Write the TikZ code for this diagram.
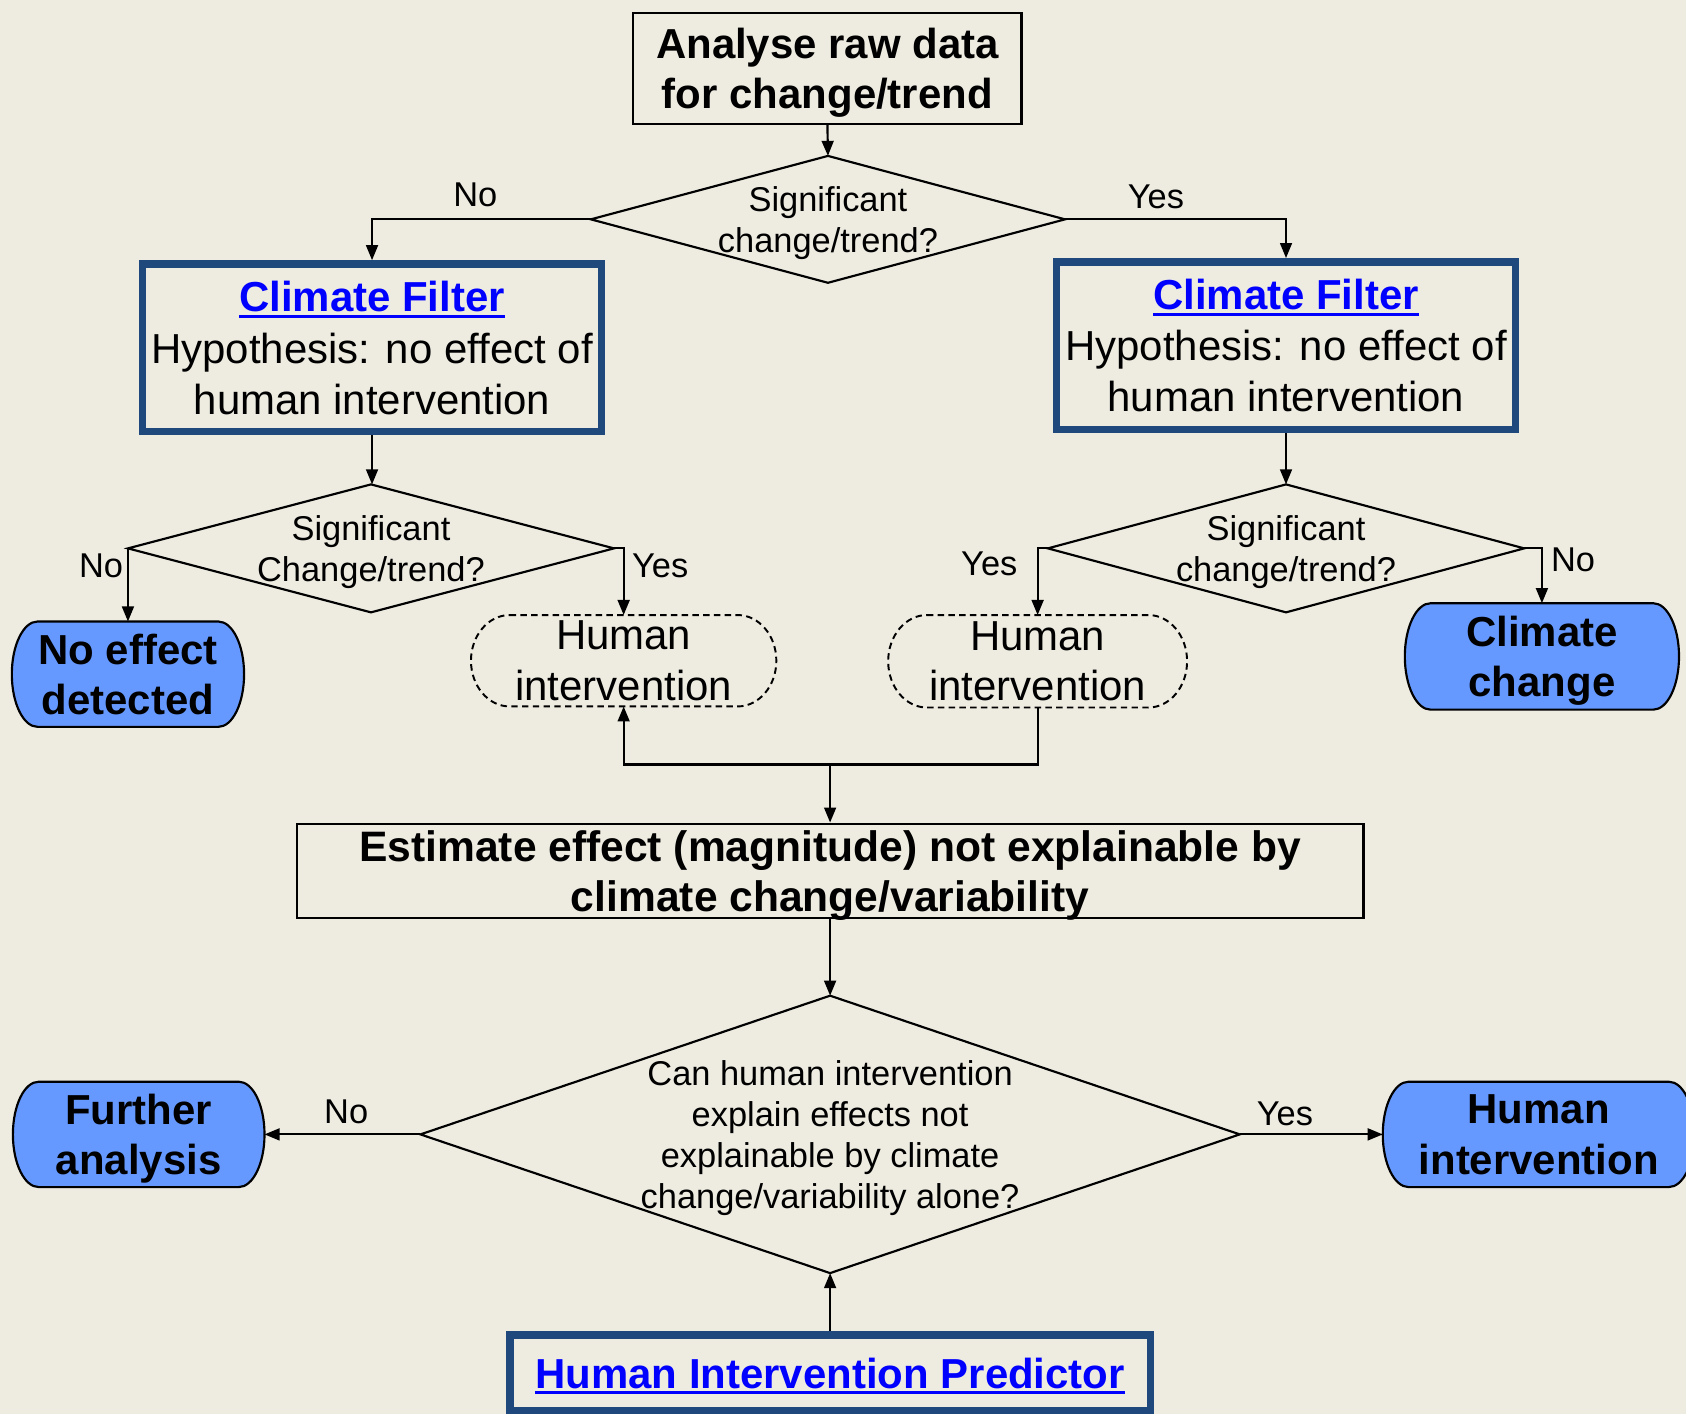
\documentclass[tikz,border=0pt]{standalone}
\usepackage{fontspec}
\setmainfont{Liberation Sans}
\usetikzlibrary{arrows.meta,calc}
\definecolor{bgbeige}{HTML}{EEECE1}
\definecolor{termblue}{HTML}{6699FF}
\definecolor{framenavy}{HTML}{1F497D}
\definecolor{linkblue}{HTML}{0000FF}

% blue underlined link-like heading
\newcommand\linktext[1]{\textcolor{linkblue}{\bfseries\setbox0\hbox{#1}%
  \rlap{\rule[-2.7pt]{\wd0}{1.4pt}}\box0}}

% capsule outline with elliptical ends: style, cx, cy, w, h, r
\newcommand\capsule[6]{%
  \draw[#1] ({#2-#4/2+#6},{#3-#5/2}) -- ({#2+#4/2-#6},{#3-#5/2})
    .. controls ({#2+#4/2-0.4477*#6},{#3-#5/2}) and ({#2+#4/2},{#3-0.2762*#5}) .. ({#2+#4/2},{#3})
    .. controls ({#2+#4/2},{#3+0.2762*#5}) and ({#2+#4/2-0.4477*#6},{#3+#5/2}) .. ({#2+#4/2-#6},{#3+#5/2})
    -- ({#2-#4/2+#6},{#3+#5/2})
    .. controls ({#2-#4/2+0.4477*#6},{#3+#5/2}) and ({#2-#4/2},{#3+0.2762*#5}) .. ({#2-#4/2},{#3})
    .. controls ({#2-#4/2},{#3-0.2762*#5}) and ({#2-#4/2+0.4477*#6},{#3-#5/2}) .. ({#2-#4/2+#6},{#3-#5/2})
    -- cycle;}

\begin{document}
\begin{tikzpicture}[x=0.5pt, y=-0.5pt,
  conn/.style={line width=1pt, -{Triangle[length=7pt,width=5.5pt]}},
  procbox/.style={draw=black, line width=1pt, inner sep=0pt, align=center, text depth=0pt,
    font=\bfseries\fontsize{19.5pt}{23.5pt}\selectfont},
  filterbox/.style={draw=framenavy, line width=3.6pt, inner sep=0pt, align=center, text depth=0pt,
    font=\fontsize{19.5pt}{23.75pt}\selectfont},
  decision/.style={inner sep=0pt, outer sep=0pt, align=center, text depth=0pt,
    font=\fontsize{16pt}{19pt}\selectfont},
  diamondline/.style={draw=black, line width=1pt},
  termtext/.style={inner sep=0pt, outer sep=0pt, align=center, text depth=0pt,
    font=\bfseries\fontsize{19.5pt}{23.5pt}\selectfont},
  termshape/.style={fill=termblue, draw=black, line width=1pt},
  hitext/.style={inner sep=0pt, outer sep=0pt, align=center, text depth=-3pt,
    font=\fontsize{19.5pt}{23.5pt}\selectfont},
  hishape/.style={draw=black, line width=0.9pt, dash pattern=on 3pt off 2pt},
  lbl/.style={inner sep=0pt, font=\fontsize{16pt}{19pt}\selectfont}
]
\useasboundingbox (0,0) rectangle (1568,1315);
\fill[bgbeige] (0,0) rectangle (1568,1315);

% ---- top: analysis box and first decision
\node[procbox, minimum width=180.5pt, minimum height=51.5pt] (start) at (769.5,63.5)
  {Analyse raw data\\for change/trend};
\node[decision, minimum width=220.5pt, minimum height=59pt] (d1) at (770,204)
  {Significant\\change/trend?};
\draw[diamondline] (d1.north) -- (d1.east) -- (d1.south) -- (d1.west) -- cycle;

% ---- climate filters
\node[filterbox, minimum width=213.4pt, minimum height=77.9pt] (cfL) at (346,323.5)
  {\linktext{Climate Filter}\\Hypothesis: no effect of\\human intervention};
\node[filterbox, minimum width=213.4pt, minimum height=77.9pt] (cfR) at (1196,321.5)
  {\linktext{Climate Filter}\\Hypothesis: no effect of\\human intervention};

% ---- second-level decisions
\node[decision, minimum width=226pt, minimum height=59.5pt] (d2L) at (345,510)
  {Significant\\Change/trend?};
\draw[diamondline] (d2L.north) -- (d2L.east) -- (d2L.south) -- (d2L.west) -- cycle;
\node[decision, minimum width=221.5pt, minimum height=59.5pt] (d2R) at (1196,510)
  {Significant\\change/trend?};
\draw[diamondline] (d2R.north) -- (d2R.east) -- (d2R.south) -- (d2R.west) -- cycle;

% ---- outcomes of the filters
\capsule{termshape}{119}{627}{216}{98}{24}
\node[termtext, minimum width=108pt, minimum height=49pt] (noeff) at (119,627)
  {No effect\\detected};
\capsule{termshape}{1434}{610.5}{255}{99}{24}
\node[termtext, minimum width=127.5pt, minimum height=49.5pt] (cc) at (1434,610.5)
  {Climate\\change};
\capsule{hishape}{580}{614.5}{284}{85}{36}
\node[hitext, minimum width=142pt, minimum height=42.5pt] (hiL) at (580,614.5)
  {Human\\intervention};
\capsule{hishape}{965}{615}{278}{86}{36}
\node[hitext, minimum width=139pt, minimum height=43pt] (hiR) at (965,615)
  {Human\\intervention};

% ---- estimation and final decision
\coordinate (m) at (772,711);
\node[procbox, font=\bfseries\fontsize{19.8pt}{23.5pt}\selectfont,
  minimum width=496pt, minimum height=44pt] (est) at (772,810)
  {Estimate effect (magnitude) not explainable by\\climate change/variability};
\node[decision, minimum width=381pt, minimum height=129pt] (d3) at (772,1055)
  {Can human intervention\\explain effects not\\explainable by climate\\change/variability alone?};
\draw[diamondline] (d3.north) -- (d3.east) -- (d3.south) -- (d3.west) -- cycle;

\capsule{termshape}{129}{1055}{234}{98}{24}
\node[termtext, minimum width=117pt, minimum height=49pt] (fa) at (129,1055)
  {Further\\analysis};
\capsule{termshape}{1431}{1055}{290}{98}{24}
\node[termtext, minimum width=145pt, minimum height=49pt] (hiB) at (1431,1055)
  {Human\\intervention};

\node[filterbox, text depth=-2pt, minimum width=297.9pt, minimum height=35.4pt] (hip) at (772,1277)
  {\linktext{Human Intervention Predictor}};

% ---- connectors
\draw[conn] (start.south) -- (d1.north);
\draw[conn] (d1.west) -| (cfL.north);
\draw[conn] (d1.east) -| (cfR.north);
\draw[conn] (cfL.south) -- (cfL.south |- d2L.north);
\draw[conn] (cfR.south) -- (d2R.north);
\draw[conn] (d2L.west) -- (d2L.west |- noeff.north);
\draw[conn] (d2L.east) -| (hiL.north);
\draw[conn] (d2R.west) -| (hiR.north);
\draw[conn] (d2R.east) -| (cc.north);
\draw[conn] (hiR.south) |- (m) -| (hiL.south);
\draw[conn] (m) -- (est.north);
\draw[conn] (est.south) -- (d3.north);
\draw[conn] (d3.west) -- (fa.east);
\draw[conn] (d3.east) -- (hiB.west);
\draw[conn] (hip.north) -- (d3.south);

% ---- branch labels
\node[lbl] (l1) at (442,181) {No};
\node[lbl] (l2) at (1075,183) {Yes};
\node[lbl] (l3) at (94,526) {No};
\node[lbl] (l4) at (614,526) {Yes};
\node[lbl] (l5) at (920,524) {Yes};
\node[lbl] (l6) at (1463,521) {No};
\node[lbl] (l7) at (322,1034) {No};
\node[lbl] (l8) at (1195,1036) {Yes};
\end{tikzpicture}
\end{document}
